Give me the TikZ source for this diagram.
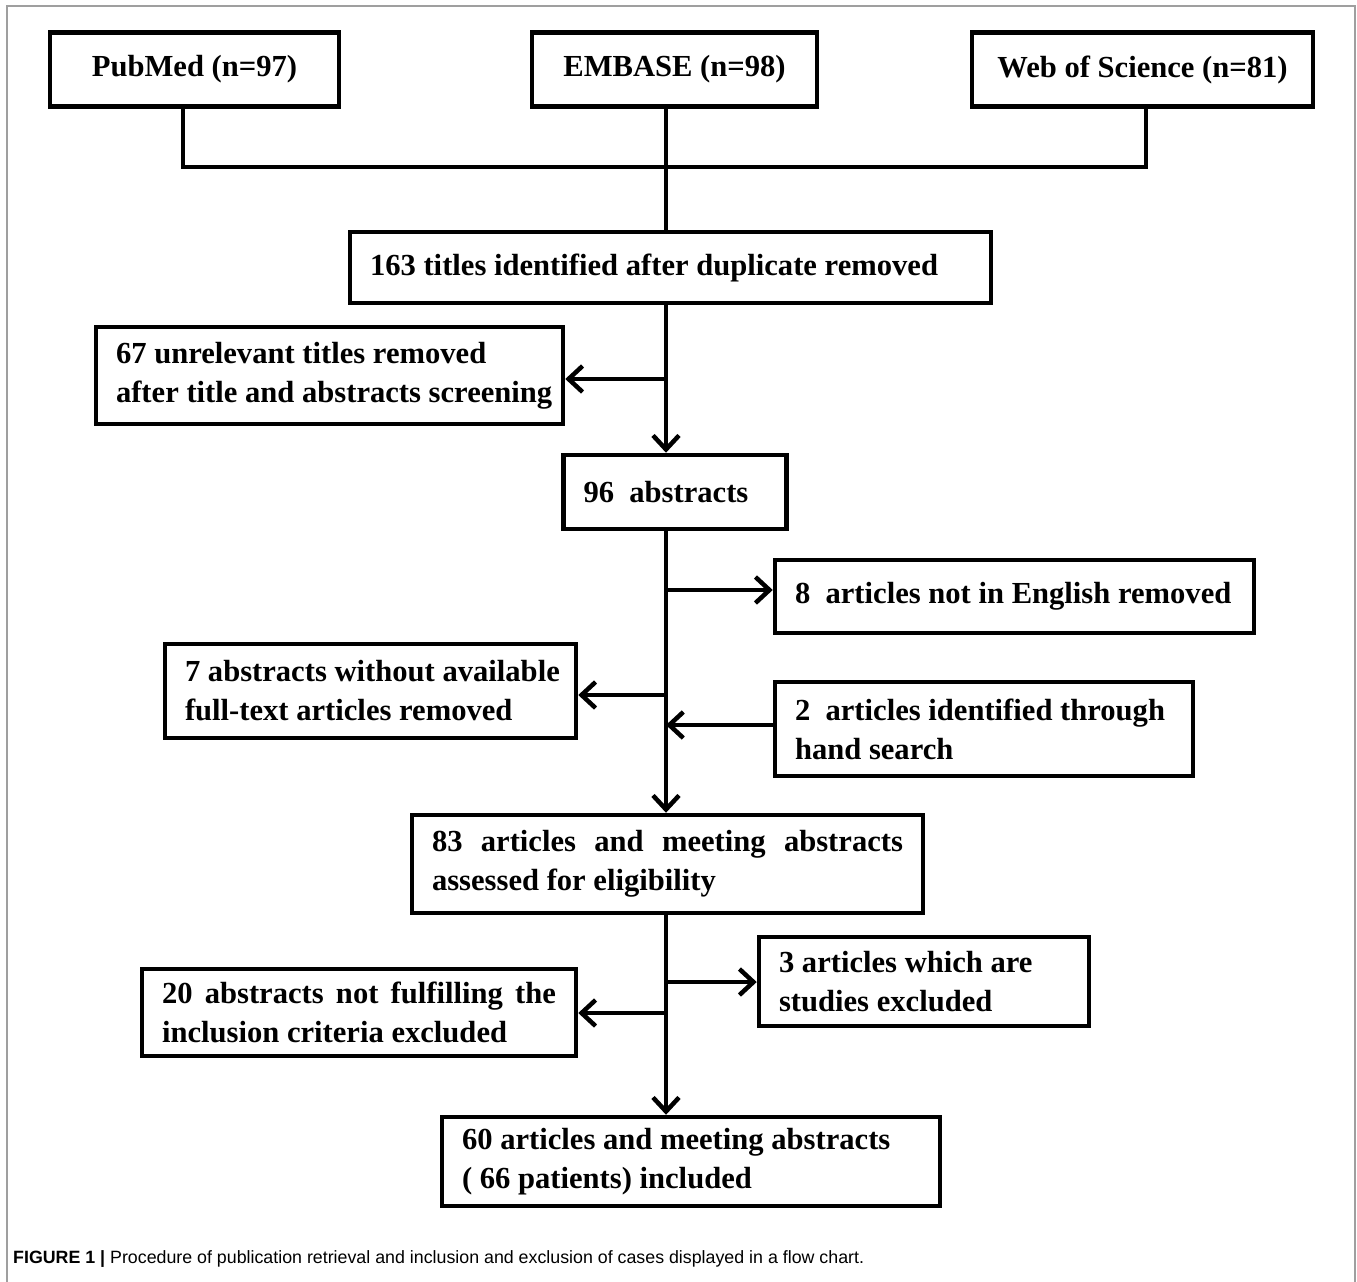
\documentclass[tikz,border=0pt]{standalone}
\usepackage{fontspec}
\setmainfont{Liberation Serif}
\newfontfamily\capfont{Liberation Sans}
\usetikzlibrary{positioning}
\usetikzlibrary{arrows.meta}

\newcommand{\fullline}[2]{\makebox[#1][s]{#2}}

\begin{document}
\begin{tikzpicture}[
  x=1pt, y=-1pt,
  box/.style={draw, line width=4.5pt, inner xsep=20pt, inner ysep=4pt, align=justify,
    font=\bfseries\fontsize{30.6}{39}\selectfont},
  srcbox/.style={draw, line width=4.5pt, inner sep=4pt, minimum height=74pt,
    font=\bfseries\fontsize{30.6}{39}\selectfont},
  arrow/.style={-{Straight Barb[length=14pt, width=26pt]}, line width=4.5pt},
  link/.style={line width=4.5pt}
]
\useasboundingbox (0,0) rectangle (1357,1282);

% Outer frame
\draw[line width=1.5pt, gray!75] (7,1282) -- (7,6) -- (1355,6) -- (1355,1282);

% Sources
\node[srcbox, minimum width=289pt] (pubmed) at (194.5,69.5) {PubMed (n=97)};
\node[srcbox, minimum width=285pt] (embase) at (674.5,69.5) {EMBASE (n=98)};
\node[srcbox, minimum width=341pt] (wos)    at (1142.5,69.5) {Web of Science (n=81)};

% Main flow
\node[box, text width=601pt, minimum height=71pt] (titles) at (670.5,267.5) {\mbox{163 titles identified after duplicate removed}};
\node[box, text width=183pt, minimum height=74pt] (abs96)  at (675,492) {\mbox{96\ \ abstracts}};
\node[box, text width=471pt, minimum height=98pt] (elig)   at (667.5,864)
  {\fullline{471pt}{83 articles and meeting abstracts}\\\mbox{assessed for eligibility}};
\node[box, text width=458pt, minimum height=89pt] (incl)   at (691,1161.5)
  {\mbox{60 articles and meeting abstracts}\\\mbox{( 66 patients) included}};

% Side boxes
\node[box, text width=427pt, minimum height=97pt] (unrel)    at (329.5,375.5)
  {\mbox{67 unrelevant titles removed}\\\mbox{after title and abstracts screening}};
\node[box, text width=439pt, minimum height=73pt] (english)  at (1014.5,596.5) {\mbox{8\ \ articles not in English removed}};
\node[box, text width=371pt, minimum height=94pt] (fulltext) at (370.5,691)
  {\mbox{7 abstracts without available}\\\mbox{full-text articles removed}};
\node[box, text width=378pt, minimum height=94pt] (hand)     at (984,729)
  {\mbox{2\ \ articles identified through}\\\mbox{hand search}};
\node[box, text width=290pt, minimum height=89pt] (studies)  at (924,981.5)
  {\mbox{3 articles which are}\\\mbox{studies excluded}};
\node[box, text width=394pt, minimum height=87pt] (criteria) at (359,1012.5)
  {\fullline{394pt}{20 abstracts not fulfilling the}\\\mbox{inclusion criteria excluded}};

% Branch points on the trunk
\coordinate (join) at (666,167);
\coordinate (b1) at (666,379);
\coordinate (b2) at (666,590);
\coordinate (b3) at (666,695);
\coordinate (b4) at (666,725);
\coordinate (b5) at (666,982);
\coordinate (b6) at (666,1013);

% Merging the sources
\draw[link] ([xshift=-11.5pt]pubmed.south) |- (join) -| ([xshift=3.5pt]wos.south);
\draw[link] ([xshift=-8.5pt]embase.south) -- (join) -- (join |- titles.north);

% Trunk
\draw[arrow] (join |- titles.south) -- (join |- abs96.north);
\draw[arrow] (join |- abs96.south) -- (join |- elig.north);
\draw[arrow] (join |- elig.south) -- (join |- incl.north);

% Branches
\draw[arrow] (b1) -- (b1 -| unrel.east);
\draw[arrow] (b2) -- (b2 -| english.west);
\draw[arrow] (b3) -- (b3 -| fulltext.east);
\draw[arrow] (b4 -| hand.west) -- (b4);
\draw[arrow] (b5) -- (b5 -| studies.west);
\draw[arrow] (b6) -- (b6 -| criteria.east);

% Caption
\node[anchor=base west, inner sep=0pt, font=\capfont\fontsize{17.8}{20}\selectfont] (caption) at (13,1263)
  {\textbf{FIGURE 1 |} Procedure of publication retrieval and inclusion and exclusion of cases displayed in a flow chart.};

\end{tikzpicture}
\end{document}
